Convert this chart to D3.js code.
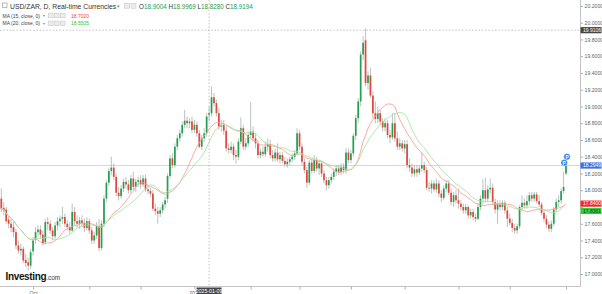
<!DOCTYPE html>
<html>
<head>
<meta charset="utf-8">
<script src="https://cdn.jsdelivr.net/npm/d3@7"></script>
<style>
  html, body { margin: 0; padding: 0; background: #fff; }
  svg { display: block; font-family: "Liberation Sans", Arial, sans-serif; }
</style>
</head>
<body>
<svg id="chart" width="602" height="294"></svg>
<script>
// USD/ZAR daily, 12 Sep 2024 .. 1 Aug 2025 (weekdays)
const firstDay = '2024-09-12';
const lastDay = '2025-08-01';

// [open, high, low, close]
const ohlc = [
  [17.90,18.02,17.74,17.78],[17.79,17.86,17.70,17.76],[17.77,17.80,17.60,17.63],[17.65,17.70,17.55,17.60],[17.60,17.66,17.50,17.55],
  [17.56,17.62,17.44,17.50],[17.50,17.54,17.30,17.34],[17.34,17.40,17.24,17.28],[17.28,17.36,17.22,17.30],[17.30,17.33,17.13,17.16],
  [17.17,17.24,17.08,17.13],[17.14,17.20,17.04,17.10],[17.10,17.30,17.06,17.26],[17.27,17.44,17.22,17.40],[17.41,17.56,17.36,17.50],
  [17.50,17.58,17.44,17.53],[17.53,17.58,17.42,17.47],[17.47,17.52,17.34,17.37],[17.38,17.66,17.35,17.62],[17.62,17.68,17.52,17.60],
  [17.60,17.64,17.48,17.52],[17.52,17.56,17.40,17.45],[17.45,17.62,17.42,17.58],[17.58,17.68,17.52,17.63],[17.63,17.70,17.56,17.66],
  [17.66,17.80,17.60,17.68],[17.68,17.72,17.56,17.60],[17.60,17.64,17.52,17.56],[17.56,17.62,17.48,17.52],[17.52,17.84,17.50,17.74],
  [17.74,17.80,17.58,17.63],[17.63,17.70,17.55,17.60],[17.60,17.68,17.54,17.64],[17.64,17.70,17.56,17.61],[17.61,17.66,17.50,17.55],
  [17.55,17.68,17.52,17.63],[17.63,17.66,17.48,17.52],[17.52,17.56,17.36,17.40],[17.40,17.50,17.36,17.46],[17.46,17.62,17.42,17.57],
  [17.57,17.66,17.27,17.31],[17.31,17.64,17.28,17.60],[17.60,17.94,17.56,17.90],[17.90,18.12,17.86,18.09],[18.09,18.27,18.05,18.23],
  [18.23,18.40,18.18,18.27],[18.27,18.32,18.12,18.16],[18.16,18.20,17.93,17.97],[17.97,18.04,17.88,17.93],[17.93,18.06,17.90,18.02],
  [18.02,18.14,17.98,18.10],[18.10,18.16,18.02,18.07],[18.07,18.12,17.96,18.00],[18.00,18.18,17.97,18.14],[18.14,18.22,18.00,18.04],
  [18.04,18.14,17.98,18.10],[18.10,18.16,18.04,18.12],[18.12,18.18,18.02,18.07],[18.07,18.18,18.04,18.14],[18.14,18.19,17.98,18.01],
  [18.01,18.06,17.95,17.99],[17.99,18.03,17.92,17.96],[17.96,18.00,17.75,17.78],[17.78,17.84,17.70,17.75],[17.75,17.80,17.60,17.72],
  [17.72,17.80,17.68,17.76],[17.76,17.86,17.72,17.83],[17.83,17.92,17.78,17.88],[17.90,18.20,17.85,18.17],[18.17,18.42,18.14,18.38],
  [18.38,18.44,18.26,18.30],[18.30,18.56,18.27,18.52],[18.52,18.66,18.48,18.62],[18.62,18.72,18.58,18.68],[18.68,18.82,18.64,18.78],
  [18.78,18.96,18.74,18.83],[18.83,18.88,18.74,18.80],[18.80,18.86,18.74,18.82],[18.82,18.88,18.68,18.72],[18.72,18.84,18.68,18.78],
  [18.78,18.82,18.64,18.68],[18.68,18.72,18.50,18.52],[18.52,18.66,18.48,18.62],[18.62,18.74,18.58,18.68],[18.68,18.92,18.64,18.88],
  [18.9004,18.9969,18.8280,18.9194],[18.92,19.24,18.88,19.11],[19.11,19.16,19.00,19.04],[19.04,19.08,18.88,18.92],[18.92,18.98,18.72,18.76],
  [18.76,18.84,18.70,18.78],[18.78,18.84,18.66,18.71],[18.71,18.76,18.46,18.50],[18.50,18.56,18.44,18.48],[18.48,18.58,18.44,18.52],
  [18.52,18.56,18.36,18.42],[18.42,18.48,18.32,18.40],[18.40,18.62,18.36,18.58],[18.58,18.87,18.55,18.74],[18.74,18.78,18.48,18.52],
  [18.52,18.62,18.48,18.56],[18.56,18.70,18.52,18.66],[18.66,19.05,18.62,18.70],[18.70,18.76,18.58,18.62],[18.62,18.68,18.50,18.56],
  [18.56,18.60,18.38,18.42],[18.42,18.50,18.38,18.46],[18.46,18.52,18.40,18.43],[18.43,18.58,18.40,18.52],[18.52,18.62,18.46,18.55],
  [18.55,18.60,18.38,18.42],[18.42,18.48,18.34,18.38],[18.38,18.50,18.34,18.45],[18.45,18.56,18.34,18.37],[18.37,18.46,18.32,18.42],
  [18.42,18.46,18.32,18.35],[18.35,18.40,18.28,18.31],[18.31,18.38,18.27,18.34],[18.34,18.40,18.30,18.37],[18.37,18.44,18.33,18.40],
  [18.40,18.48,18.36,18.44],[18.44,18.74,18.42,18.68],[18.68,18.72,18.48,18.52],[18.52,18.56,18.30,18.34],[18.34,18.38,18.20,18.24],
  [18.24,18.28,18.03,18.09],[18.09,18.36,18.06,18.33],[18.33,18.38,18.20,18.23],[18.23,18.42,18.20,18.36],[18.36,18.40,18.22,18.26],
  [18.26,18.36,18.18,18.32],[18.32,18.34,18.16,18.20],[18.20,18.24,18.08,18.12],[18.12,18.16,18.00,18.06],[18.06,18.16,18.02,18.12],
  [18.12,18.20,18.08,18.16],[18.16,18.26,18.12,18.22],[18.22,18.30,18.17,18.26],[18.26,18.30,18.18,18.22],[18.22,18.32,18.18,18.28],
  [18.28,18.32,18.20,18.24],[18.24,18.50,18.20,18.45],[18.45,18.50,18.32,18.36],[18.36,18.48,18.32,18.44],[18.44,18.68,18.40,18.65],
  [18.65,18.90,18.60,18.86],[18.86,19.10,18.80,19.06],[19.06,19.66,19.00,19.62],[19.62,19.84,19.55,19.76],[19.79,19.93,19.24,19.28],
  [19.28,19.42,19.20,19.37],[19.37,19.46,19.10,19.13],[19.13,19.18,18.86,18.92],[18.92,19.06,18.80,18.85],[18.85,19.00,18.80,18.92],
  [18.92,18.96,18.78,18.82],[18.82,18.86,18.70,18.75],[18.75,18.86,18.70,18.80],[18.80,18.84,18.62,18.66],[18.66,18.72,18.56,18.63],
  [18.63,18.92,18.60,18.80],[18.80,18.92,18.58,18.62],[18.62,18.70,18.48,18.52],[18.52,18.62,18.48,18.56],[18.56,18.60,18.46,18.50],
  [18.50,18.60,18.44,18.55],[18.55,18.60,18.26,18.30],[18.30,18.38,18.22,18.27],[18.27,18.32,18.16,18.20],[18.20,18.30,18.16,18.25],
  [18.25,18.30,18.16,18.21],[18.21,18.30,18.18,18.26],[18.26,18.45,18.22,18.30],[18.30,18.34,18.20,18.24],[18.24,18.28,18.00,18.03],
  [18.03,18.10,17.98,18.02],[18.02,18.12,17.96,18.08],[18.08,18.12,17.98,18.01],[18.01,18.14,17.97,18.08],[18.08,18.12,17.92,17.96],
  [17.96,18.00,17.86,17.91],[17.91,18.06,17.88,18.02],[18.02,18.12,17.98,18.08],[18.08,18.12,17.94,17.97],[17.97,18.02,17.82,17.86],
  [17.86,17.98,17.80,17.94],[17.94,18.00,17.84,17.88],[17.88,18.02,17.78,17.84],[17.84,17.88,17.76,17.80],[17.80,17.84,17.72,17.76],
  [17.76,17.84,17.72,17.80],[17.80,17.82,17.66,17.70],[17.70,17.78,17.66,17.74],[17.74,17.78,17.64,17.68],[17.68,17.72,17.62,17.66],
  [17.66,17.84,17.64,17.80],[17.80,17.94,17.76,17.90],[17.90,18.13,17.84,18.00],[18.00,18.15,17.86,17.90],[17.90,18.06,17.86,18.01],
  [18.01,18.14,17.96,18.03],[18.03,18.08,17.82,17.86],[17.86,17.90,17.72,17.77],[17.77,17.88,17.60,17.84],[17.84,17.88,17.76,17.80],
  [17.80,17.88,17.76,17.85],[17.85,17.88,17.72,17.76],[17.76,17.80,17.56,17.66],[17.66,17.72,17.58,17.61],[17.61,17.66,17.50,17.55],
  [17.55,17.60,17.48,17.52],[17.52,17.60,17.48,17.57],[17.57,17.82,17.54,17.80],[17.80,17.94,17.76,17.85],[17.85,17.90,17.78,17.82],
  [17.82,17.94,17.78,17.87],[17.87,17.98,17.82,17.94],[17.94,17.98,17.86,17.90],[17.90,17.98,17.86,17.95],[17.95,17.98,17.84,17.87],
  [17.87,17.94,17.80,17.83],[17.83,17.86,17.70,17.73],[17.73,17.77,17.62,17.66],[17.66,17.70,17.55,17.59],[17.59,17.63,17.50,17.54],
  [17.54,17.64,17.50,17.60],[17.60,17.80,17.57,17.77],[17.77,17.90,17.74,17.86],[17.86,17.94,17.80,17.88],[17.88,18.02,17.84,17.99],
  [17.99,18.22,17.96,18.04],[18.20,18.34,18.18,18.2949]
];

const priceTicks = [17.0, 17.2, 17.4, 17.6, 17.8, 18.0, 18.2, 18.4, 18.6, 18.8, 19.0, 19.2, 19.4, 19.6, 19.8, 20.0, 20.2];
const monthLabels = { '2024-10': 'Oct', '2025-01': '2025' };

const legendKeys = ['O', 'H', 'L', 'C'];
const legendValues = ['18.9004', '18.9969', '18.8280', '18.9194'];
const maPeriods = [15, 20];
const maLegendValues = ['18.7020', '18.5505'];
const maLastValues = [17.8400, 17.8361];
const crossDate = '2025-01-09';
const crossPrice = 19.9106;

const UP = '#22a052', DOWN = '#e2463c', WICK = '#aab3ae';
const MA_COLORS = ['#f5a19b', '#a6e6a0'];

const svg = d3.select('#chart');
const plotRight = 580.5, plotBottom = 286.5;

const parse = d3.timeParse('%Y-%m-%d');
const fmt = d3.timeFormat('%Y-%m-%d');
const dates = d3.timeDay.range(parse(firstDay), d3.timeDay.offset(parse(lastDay), 1))
  .filter(d => d.getDay() !== 0 && d.getDay() !== 6)
  .map(fmt)
  .slice(0, ohlc.length);

const data = dates.map((d, i) => ({ date: d, o: ohlc[i][0], h: ohlc[i][1], l: ohlc[i][2], c: ohlc[i][3] }));
const last = data[data.length - 1];

const x = d3.scalePoint().domain(dates).range([1.3, 566]);
const y = d3.scaleLinear().domain([17, 20]).range([274, 22.7]);

// simple moving averages of the close
function sma(n) {
  return data.map((d, i) => ({ date: d.date, v: d3.mean(data.slice(Math.max(0, i - n + 1), i + 1), e => e.c) }));
}

const plot = svg.append('g');

// last price line
plot.append('line')
  .attr('x1', 0).attr('x2', plotRight)
  .attr('y1', y(last.c)).attr('y2', y(last.c))
  .attr('stroke', '#bccdf3').attr('stroke-width', 0.8);

// crosshair
plot.append('line')
  .attr('x1', x(crossDate)).attr('x2', x(crossDate))
  .attr('y1', 0).attr('y2', plotBottom)
  .attr('stroke', '#a8a8a8').attr('stroke-width', 0.7).attr('stroke-dasharray', '1.5,1.8');
plot.append('line')
  .attr('x1', 0).attr('x2', plotRight)
  .attr('y1', y(crossPrice)).attr('y2', y(crossPrice))
  .attr('stroke', '#a8a8a8').attr('stroke-width', 0.7).attr('stroke-dasharray', '1.5,1.8');

// candles
const candles = plot.selectAll('.candle').data(data).enter().append('g').attr('class', 'candle');
candles.append('line')
  .attr('x1', d => x(d.date)).attr('x2', d => x(d.date))
  .attr('y1', d => y(d.h)).attr('y2', d => y(d.l))
  .attr('stroke', WICK).attr('stroke-width', 0.8);
candles.append('rect')
  .attr('x', d => x(d.date) - 0.85)
  .attr('width', 1.7)
  .attr('y', d => y(Math.max(d.o, d.c)))
  .attr('height', d => Math.max(0.8, Math.abs(y(d.o) - y(d.c))))
  .attr('fill', d => d.c >= d.o ? UP : DOWN);

// moving averages
maPeriods.forEach((n, k) => {
  plot.append('path')
    .datum(sma(n))
    .attr('fill', 'none')
    .attr('stroke', MA_COLORS[k])
    .attr('stroke-width', 0.9)
    .attr('d', d3.line().x(d => x(d.date)).y(d => y(d.v)));
});

// pattern markers on the last candle
[[-1.8, 1], [1, -5]].forEach(([dx, dy]) => {
  const g = plot.append('g').attr('transform', `translate(${x(last.date) + dx},${y(last.h) + dy})`);
  g.append('circle').attr('r', 3.3).attr('fill', '#2f80e8').attr('stroke', '#fff').attr('stroke-width', 0.5);
  g.append('text').attr('text-anchor', 'middle').attr('dy', '1.8').attr('font-size', 4.8)
    .attr('font-weight', 'bold').attr('fill', '#fff').text('P');
});

// axes frame
svg.append('line').attr('x1', plotRight).attr('x2', plotRight).attr('y1', 0).attr('y2', plotBottom)
  .attr('stroke', '#c4c4c4').attr('stroke-width', 1);
svg.append('line').attr('x1', 0).attr('x2', plotRight).attr('y1', plotBottom).attr('y2', plotBottom)
  .attr('stroke', '#c4c4c4').attr('stroke-width', 1);

// value tags on the price scale (tick labels under them are hidden, as in the original)
const tags = [
  { v: crossPrice, fill: '#474747', text: '#fff', dy: 0 },
  { v: last.c, fill: '#3f72dc', text: '#fff', dy: 0 },
  { v: maLastValues[0], fill: '#ee2a2a', text: '#fff', dy: 0 },
  { v: maLastValues[1], fill: '#2ed13c', text: '#0b3d10', dy: 7 }
];
const covered = t => tags.some(g => Math.abs(y(g.v) + g.dy - y(t)) < 6);

const yAxis = svg.append('g')
  .attr('transform', `translate(${plotRight},0)`)
  .call(d3.axisRight(y).tickValues(priceTicks).tickSize(2.5).tickPadding(1.5)
    .tickFormat(t => covered(t) ? '' : d3.format('.4f')(t)));
yAxis.select('.domain').remove();
yAxis.selectAll('line').attr('stroke', '#b0b0b0');
yAxis.selectAll('text').attr('font-size', 5.2).attr('fill', '#666').attr('font-family', null);

const monthStarts = dates.filter((d, i) => i > 0 && d.slice(0, 7) !== dates[i - 1].slice(0, 7));
const xAxis = svg.append('g')
  .attr('transform', `translate(0,${plotBottom})`)
  .call(d3.axisBottom(x).tickValues(monthStarts).tickSize(3).tickPadding(1.5)
    .tickFormat(d => monthLabels[d.slice(0, 7)] || ''));
xAxis.select('.domain').remove();
xAxis.selectAll('line').attr('stroke', '#b0b0b0');
xAxis.selectAll('text').attr('font-size', 5.2).attr('fill', '#666').attr('font-family', null);

tags.forEach(t => {
  const g = svg.append('g').attr('transform', `translate(${plotRight},${y(t.v) + t.dy})`);
  g.append('rect').attr('x', 0).attr('y', -3.1).attr('width', 21).attr('height', 6.2).attr('fill', t.fill);
  g.append('text').attr('x', 2.5).attr('dy', '1.8').attr('font-size', 5).attr('fill', t.text)
    .text(d3.format('.4f')(t.v));
});

// crosshair date tag
const dateTag = svg.append('g').attr('transform', `translate(${x(crossDate)},${plotBottom + 1})`);
dateTag.append('rect').attr('x', -12.5).attr('y', 0).attr('width', 25).attr('height', 8).attr('fill', '#474747');
dateTag.append('text').attr('text-anchor', 'middle').attr('y', 5.8).attr('font-size', 5.2).attr('fill', '#fff').text(crossDate);

// header
const head = svg.append('g');
head.append('rect').attr('x', 2.5).attr('y', 3).attr('width', 4.5).attr('height', 4.5)
  .attr('fill', 'none').attr('stroke', '#8a8a8a').attr('stroke-width', 0.6);
head.append('text').attr('x', 10).attr('y', 8.6).attr('font-size', 6.8).attr('fill', '#333')
  .text('USD/ZAR, D, Real-time Currencies');
head.append('text').attr('x', 117).attr('y', 8.2).attr('font-size', 5).attr('fill', '#888').text('▾');
[124.5, 131].forEach(px => head.append('rect').attr('x', px).attr('y', 3.2).attr('width', 5).attr('height', 5)
  .attr('fill', '#ececec').attr('stroke', '#c2c2c2').attr('stroke-width', 0.5));
const ohlcText = head.append('text').attr('x', 139).attr('y', 8.6).attr('font-size', 6.3);
legendKeys.forEach((k, i) => {
  ohlcText.append('tspan').attr('fill', '#333').text((i ? ' ' : '') + k);
  ohlcText.append('tspan').attr('fill', '#1f9a4e').text(legendValues[i]);
});

maPeriods.forEach((n, k) => {
  const yy = 17.5 + k * 7.8;
  head.append('text').attr('x', 2.5).attr('y', yy).attr('font-size', 5).attr('fill', '#444')
    .text(`MA (${n}, close, 0)`);
  head.append('text').attr('x', 43).attr('y', yy - 0.3).attr('font-size', 4).attr('fill', '#888').text('▾');
  [48.5, 54.5, 60.5].forEach(px => head.append('rect').attr('x', px).attr('y', yy - 4.3).attr('width', 4.6).attr('height', 4.6)
    .attr('fill', '#ececec').attr('stroke', '#c2c2c2').attr('stroke-width', 0.5));
  head.append('text').attr('x', 71).attr('y', yy).attr('font-size', 5).attr('fill', k ? '#2fc53a' : '#f0463e')
    .text(maLegendValues[k]);
});

// watermark
const logo = svg.append('text').attr('x', 5.5).attr('y', 280).attr('fill', '#151515');
logo.append('tspan').attr('font-size', 10).attr('font-weight', 'bold').attr('letter-spacing', -0.35).text('Investing');
logo.append('tspan').attr('font-size', 6.4).attr('fill', '#3a3a3a').text('.com');
</script>
</body>
</html>
